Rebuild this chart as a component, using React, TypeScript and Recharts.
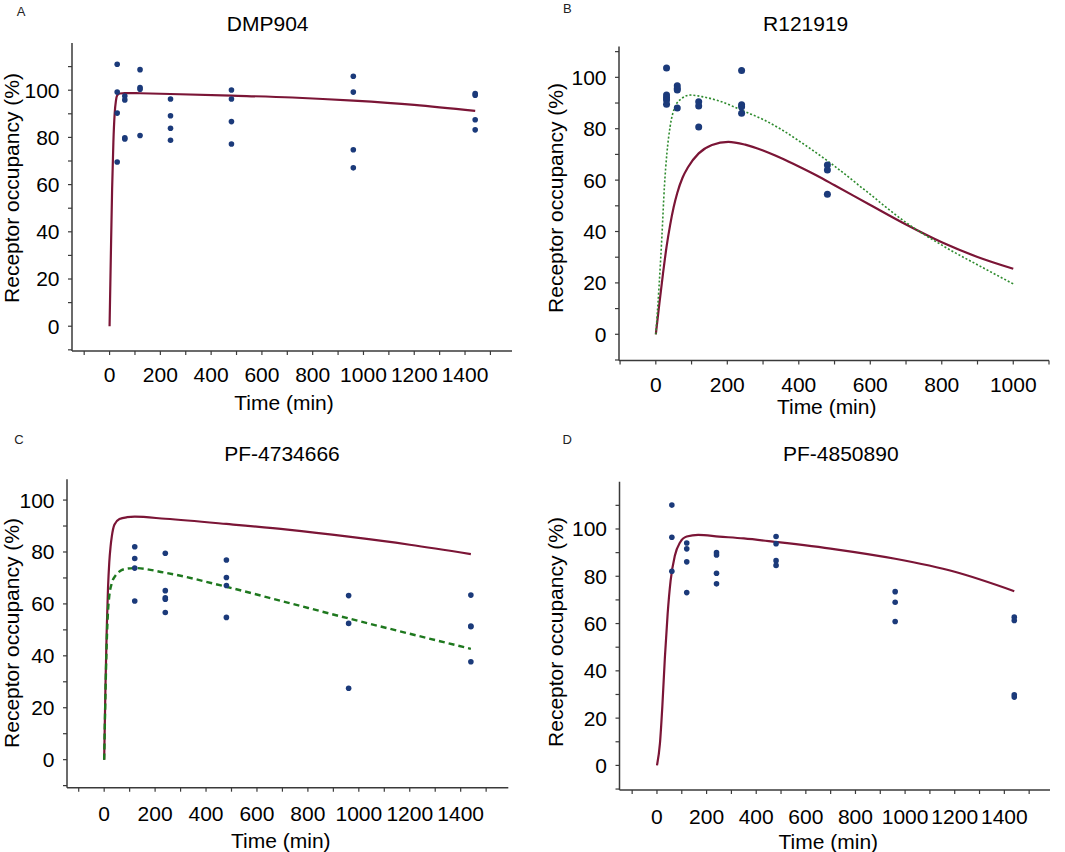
import React from "react";
import { ComposedChart, Line, Scatter, XAxis, YAxis } from "recharts";

// observed receptor occupancy (%) per sampling time (min)
const dmpObsTime = [30, 30, 30, 30, 60, 60, 60, 60, 120, 120, 120, 120, 240, 240, 240, 240, 480, 480, 480, 480, 960, 960, 960, 960, 1440, 1440, 1440, 1440];
const dmpObsRO = [111.0, 99.2, 90.3, 69.6, 97.5, 95.9, 79.8, 79.3, 108.7, 101.1, 100.4, 80.8, 96.3, 89.2, 83.9, 78.8, 100.1, 96.3, 86.7, 77.2, 105.9, 99.2, 74.8, 67.1, 98.6, 97.9, 87.5, 83.2];
const dmpFitTime = [0, 5, 10, 15, 20, 25, 30, 40, 60, 120, 240, 480, 720, 960, 1200, 1440];
const dmpFitRO = [0, 30, 58, 78, 90, 95.5, 97.8, 98.6, 98.8, 98.7, 98.4, 97.7, 96.9, 95.6, 93.8, 91.2];

const rObsTime = [30, 30, 30, 30, 30, 60, 60, 60, 60, 120, 120, 120, 240, 240, 240, 240, 480, 480, 480];
const rObsRO = [103.6, 93.1, 92.1, 91.2, 89.5, 96.7, 95.7, 95.1, 88.1, 90.5, 88.8, 80.7, 102.7, 89.3, 88.6, 86.0, 65.9, 63.9, 54.5];
const rFitTime = [0, 10, 20, 30, 40, 50, 60, 75, 90, 120, 157, 203, 250, 300, 350, 400, 450, 500, 600, 700, 800, 900, 1000];
const rFitRO = [0, 12, 23.5, 34, 42.5, 49.5, 55, 61, 65, 70.4, 73.7, 74.9, 73.8, 71.5, 68.6, 65.3, 61.8, 58, 50.3, 42.7, 35.8, 30.1, 25.5];
const rAltTime = [0, 9, 17, 24, 31, 40, 54, 73, 96, 129, 175, 250, 300, 350, 400, 490, 585, 700, 815, 910, 1000];
const rAltRO = [0, 18.5, 38, 57.4, 70.4, 80.8, 88.6, 91.8, 93.1, 92.5, 90.9, 86.6, 83.6, 79.8, 75.3, 66.5, 56.1, 43.5, 33.5, 26.3, 19.6];

const pf47ObsTime = [120, 120, 120, 120, 240, 240, 240, 240, 240, 480, 480, 480, 480, 960, 960, 960, 1440, 1440, 1440, 1440];
const pf47ObsRO = [82.0, 77.5, 73.8, 61.1, 79.5, 65.1, 62.4, 61.8, 56.7, 76.9, 70.2, 67.1, 54.8, 63.2, 52.5, 27.5, 63.4, 51.5, 51.2, 37.7];
const pf47FitTime = [0, 5, 10, 15, 20, 25, 30, 40, 60, 90, 120, 240, 480, 720, 960, 1200, 1440];
const pf47FitRO = [0, 28, 50, 66, 76, 82, 86, 90.5, 92.7, 93.4, 93.6, 92.8, 90.8, 88.6, 85.9, 82.8, 79.2];
const pf47AltTime = [0, 5, 10, 15, 20, 30, 45, 60, 90, 120, 240, 480, 720, 960, 1200, 1440];
const pf47AltRO = [0, 25, 45, 57, 63, 68, 71, 72.5, 73.6, 73.8, 72, 66.6, 60.5, 54.4, 48.5, 42.7];

const pf48ObsTime = [60, 60, 60, 120, 120, 120, 120, 240, 240, 240, 240, 480, 480, 480, 480, 960, 960, 960, 1440, 1440, 1440, 1440];
const pf48ObsRO = [110.1, 96.5, 82.1, 94.1, 91.6, 86.1, 73.1, 90.0, 89.0, 81.3, 76.8, 96.8, 93.8, 86.6, 84.6, 73.5, 69.0, 60.9, 62.7, 61.3, 29.9, 28.9];
const pf48FitTime = [0, 12, 21.5, 32, 43, 55, 72, 93, 120, 166, 250, 350, 480, 720, 960, 1200, 1440];
const pf48FitRO = [0, 9.3, 24.7, 45.8, 64.1, 78.2, 88.7, 94.3, 96.8, 97.5, 96.8, 96, 94.5, 91.4, 87.4, 81.9, 73.7];

// axis ticks
const xTicksLong = [-100, 0, 100, 200, 300, 400, 500, 600, 700, 800, 900, 1000, 1100, 1200, 1300, 1400, 1500];
const xLabelsLong = [0, 200, 400, 600, 800, 1000, 1200, 1400];
const xTicksShort = [-100, 0, 100, 200, 300, 400, 500, 600, 700, 800, 900, 1000, 1100];
const xLabelsShort = [0, 200, 400, 600, 800, 1000];
const yTicks110 = [-10, 0, 10, 20, 30, 40, 50, 60, 70, 80, 90, 100, 110];
const yTicks100 = [-10, 0, 10, 20, 30, 40, 50, 60, 70, 80, 90, 100];
const yLabels = [0, 20, 40, 60, 80, 100];

const pts = (t: number[], v: number[]) => t.map((x, i) => ({ t: x, v: v[i] }));

const DOT = "#1B3A7A";
const RED = "#7B1536";
const AX = "#3a3a3a";
const YW = 60;
const XH = 50;

type Box = { x: number; y: number; w: number; h: number };
type PanelCfg = {
  letter: string;
  title: string;
  box: Box;
  plot: { left: number; right: number; top: number; bottom: number };
  xDomain: [number, number];
  yDomain: [number, number];
  xTicks: number[];
  xLabels: number[];
  yTicks: number[];
  xTickMargin: number;
  letterPos: [number, number];
  titlePos: [number, number];
  xTitlePos: [number, number];
  yTitlePos: [number, number];
  dotR: number;
  obs: { t: number; v: number }[];
  fit: { t: number; v: number }[];
  alt?: { t: number; v: number }[];
  altStyle?: { stroke: string; dash: string; width: number };
};

const panels: PanelCfg[] = [
  {
    letter: "A", title: "DMP904",
    box: { x: 0, y: 0, w: 530, h: 420 },
    plot: { left: 72, right: 512, top: 43, bottom: 351 },
    xDomain: [-148, 1585], yDomain: [-10.5, 120],
    xTicks: xTicksLong, xLabels: xLabelsLong, yTicks: yTicks110, xTickMargin: 12.5,
    letterPos: [21, 10.5], titlePos: [267.7, 23.3], xTitlePos: [284, 401.7], yTitlePos: [10.5, 188.3],
    dotR: 2.8,
    obs: pts(dmpObsTime, dmpObsRO), fit: pts(dmpFitTime, dmpFitRO),
  },
  {
    letter: "B", title: "R121919",
    box: { x: 530, y: 0, w: 535, h: 420 },
    plot: { left: 619, right: 1049, top: 46.5, bottom: 360.5 },
    xDomain: [-103, 1100], yDomain: [-10.2, 112],
    xTicks: xTicksShort, xLabels: xLabelsShort, yTicks: yTicks110, xTickMargin: 12.5,
    letterPos: [567.3, 8.3], titlePos: [805.7, 22.7], xTitlePos: [826.7, 406], yTitlePos: [555, 198.3],
    dotR: 3.5,
    obs: pts(rObsTime, rObsRO), fit: pts(rFitTime, rFitRO), alt: pts(rAltTime, rAltRO),
    altStyle: { stroke: "#2E8B2E", dash: "2 2", width: 1.6 },
  },
  {
    letter: "C", title: "PF-4734666",
    box: { x: 0, y: 420, w: 530, h: 432 },
    plot: { left: 67, right: 508.3, top: 479.3, bottom: 787.7 },
    xDomain: [-146, 1587], yDomain: [-10.8, 108],
    xTicks: xTicksLong, xLabels: xLabelsLong, yTicks: yTicks100, xTickMargin: 14,
    letterPos: [19, 439], titlePos: [282, 453.3], xTitlePos: [280.8, 840], yTitlePos: [10.5, 632.5],
    dotR: 2.8,
    obs: pts(pf47ObsTime, pf47ObsRO), fit: pts(pf47FitTime, pf47FitRO), alt: pts(pf47AltTime, pf47AltRO),
    altStyle: { stroke: "#1E781E", dash: "6 4", width: 2.4 },
  },
  {
    letter: "D", title: "PF-4850890",
    box: { x: 530, y: 420, w: 535, h: 432 },
    plot: { left: 619.5, right: 1050, top: 481.7, bottom: 790 },
    xDomain: [-151, 1584], yDomain: [-10.4, 120],
    xTicks: xTicksLong, xLabels: xLabelsLong, yTicks: yTicks110, xTickMargin: 15,
    letterPos: [567.3, 439], titlePos: [840.8, 452.7], xTitlePos: [828.3, 840.7], yTitlePos: [554.5, 631.7],
    dotR: 2.8,
    obs: pts(pf48ObsTime, pf48ObsRO), fit: pts(pf48FitTime, pf48FitRO),
  },
];

function Txt({ box, pos, size, rotate, color, children }: any) {
  return (
    <div
      style={{
        position: "absolute",
        left: pos[0] - box.x,
        top: pos[1] - box.y,
        fontSize: size,
        color: color || "#000",
        whiteSpace: "nowrap",
        lineHeight: 1,
        transform: `translate(-50%, -50%)${rotate ? " rotate(-90deg)" : ""}`,
      }}
    >
      {children}
    </div>
  );
}

function Panel({ p }: { p: PanelCfg }) {
  const { box, plot } = p;
  const margin = {
    top: plot.top - box.y,
    left: plot.left - box.x - YW,
    right: box.x + box.w - plot.right,
    bottom: box.y + box.h - plot.bottom - XH,
  };
  const dot = (props: any) => <circle cx={props.cx} cy={props.cy} r={p.dotR} fill={DOT} />;
  return (
    <div style={{ position: "absolute", left: box.x, top: box.y, width: box.w, height: box.h }}>
      <ComposedChart width={box.w} height={box.h} margin={margin}>
        <XAxis
          type="number"
          dataKey="t"
          domain={p.xDomain}
          allowDataOverflow
          ticks={p.xTicks}
          interval={0}
          height={XH}
          tickSize={4}
          tickMargin={p.xTickMargin}
          tickFormatter={(v: number) => (p.xLabels.includes(v) ? String(v) : "")}
          axisLine={{ stroke: AX, strokeWidth: 1.5 }}
          tickLine={{ stroke: AX, strokeWidth: 1.2 }}
          tick={{ fill: "#000", fontSize: 21 }}
        />
        <YAxis
          type="number"
          dataKey="v"
          domain={p.yDomain}
          allowDataOverflow
          ticks={p.yTicks}
          interval={0}
          width={YW}
          tickSize={4}
          tickMargin={8.5}
          tickFormatter={(v: number) => (yLabels.includes(v) ? String(v) : "")}
          axisLine={{ stroke: AX, strokeWidth: 1.5 }}
          tickLine={{ stroke: AX, strokeWidth: 1.2 }}
          tick={{ fill: "#000", fontSize: 21 }}
        />
        <Scatter data={p.obs} dataKey="v" shape={dot} isAnimationActive={false} />
        <Line
          data={p.fit}
          dataKey="v"
          type="monotone"
          stroke={RED}
          strokeWidth={2.2}
          dot={false}
          activeDot={false}
          isAnimationActive={false}
        />
        {p.alt && p.altStyle && (
          <Line
            data={p.alt}
            dataKey="v"
            type="monotone"
            stroke={p.altStyle.stroke}
            strokeWidth={p.altStyle.width}
            strokeDasharray={p.altStyle.dash}
            dot={false}
            activeDot={false}
            isAnimationActive={false}
          />
        )}
      </ComposedChart>
      <Txt box={box} pos={p.letterPos} size={13} color="#222">{p.letter}</Txt>
      <Txt box={box} pos={p.titlePos} size={21}>{p.title}</Txt>
      <Txt box={box} pos={p.xTitlePos} size={21}>Time (min)</Txt>
      <Txt box={box} pos={p.yTitlePos} size={21} rotate>Receptor occupancy (%)</Txt>
    </div>
  );
}

export default function App() {
  return (
    <div
      style={{
        position: "absolute",
        left: 0,
        top: 0,
        width: 1065,
        height: 852,
        background: "#fff",
        fontFamily: "'Liberation Sans', Arial, sans-serif",
        overflow: "hidden",
      }}
    >
      {panels.map((p) => (
        <Panel key={p.letter} p={p} />
      ))}
    </div>
  );
}
